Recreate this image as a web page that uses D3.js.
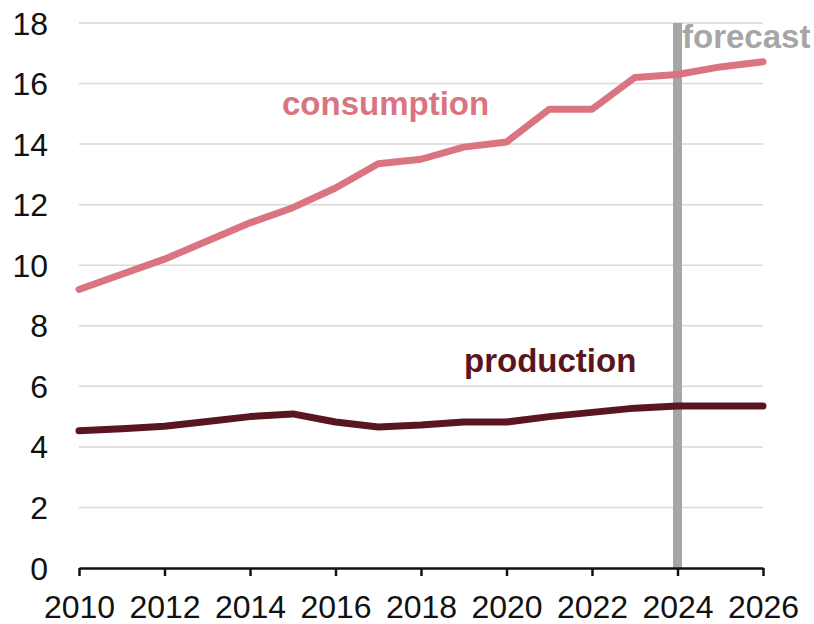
<!DOCTYPE html>
<html>
<head>
<meta charset="utf-8">
<script src="https://cdn.jsdelivr.net/npm/d3@7"></script>
<style>
  body { margin: 0; background: #fff; }
  text { font-family: "Liberation Sans", Arial, sans-serif; }
</style>
</head>
<body>
<svg id="chart" width="814" height="624"></svg>
<script>
const years = d3.range(2010, 2027);
const consumption = [9.2, 9.7, 10.2, 10.8, 11.4, 11.9, 12.55, 13.35, 13.5, 13.9, 14.07, 15.15, 15.15, 16.2, 16.3, 16.55, 16.72];
const production = [4.53, 4.6, 4.68, 4.84, 5.0, 5.09, 4.82, 4.66, 4.72, 4.82, 4.82, 5.0, 5.14, 5.28, 5.35, 5.35, 5.35];
const yTicks = [0, 2, 4, 6, 8, 10, 12, 14, 16, 18];
const xTicks = [2010, 2012, 2014, 2016, 2018, 2020, 2022, 2024, 2026];
const forecastYear = 2024;

const svg = d3.select("#chart");
const margin = { top: 23, right: 51, bottom: 56, left: 79 };
const width = 814, height = 624;

const x = d3.scaleLinear().domain([2010, 2026]).range([margin.left, width - margin.right]);
const y = d3.scaleLinear().domain([0, 18]).range([height - margin.bottom, margin.top]);

// gridlines
svg.append("g")
  .selectAll("line")
  .data(yTicks.filter(d => d > 0))
  .enter().append("line")
  .attr("x1", x(2010)).attr("x2", x(2026))
  .attr("y1", d => y(d)).attr("y2", d => y(d))
  .attr("stroke", "#d9d9d9")
  .attr("stroke-width", 1.5);

// y labels
svg.append("g")
  .selectAll("text")
  .data(yTicks)
  .enter().append("text")
  .attr("x", 48)
  .attr("y", d => y(d) + 11.5)
  .attr("text-anchor", "end")
  .attr("font-size", "32px")
  .attr("fill", "#111")
  .text(d => d);

// forecast bar
svg.append("line")
  .attr("x1", x(forecastYear)).attr("x2", x(forecastYear))
  .attr("y1", y(18)).attr("y2", y(0))
  .attr("stroke", "#a6a6a6")
  .attr("stroke-width", 9);

// x axis
const xAxis = d3.axisBottom(x)
  .tickValues(xTicks)
  .tickFormat(d3.format("d"))
  .tickSize(8)
  .tickSizeOuter(0);
const gx = svg.append("g")
  .attr("transform", "translate(0," + y(0) + ")")
  .call(xAxis);
gx.select(".domain").attr("stroke", "#111").attr("stroke-width", 2.5);
gx.selectAll(".tick line").attr("stroke", "#111").attr("stroke-width", 2.5);
gx.selectAll(".tick text")
  .attr("font-size", "32px")
  .attr("font-family", "Liberation Sans, Arial, sans-serif")
  .attr("fill", "#111")
  .attr("y", 50)
  .attr("dy", 0);

const line = d3.line().x((d, i) => x(years[i])).y(d => y(d));

svg.append("path")
  .datum(consumption)
  .attr("d", line)
  .attr("fill", "none")
  .attr("stroke", "#da7481")
  .attr("stroke-width", 7)
  .attr("stroke-linecap", "round")
  .attr("stroke-linejoin", "round");

svg.append("path")
  .datum(production)
  .attr("d", line)
  .attr("fill", "none")
  .attr("stroke", "#5a1620")
  .attr("stroke-width", 7)
  .attr("stroke-linecap", "round")
  .attr("stroke-linejoin", "round");

// labels
svg.append("text")
  .attr("x", 282).attr("y", 115)
  .attr("font-size", "33px").attr("font-weight", "bold")
  .attr("fill", "#da7481")
  .text("consumption");

svg.append("text")
  .attr("x", 464).attr("y", 372)
  .attr("font-size", "33px").attr("font-weight", "bold")
  .attr("fill", "#5a1620")
  .text("production");

svg.append("text")
  .attr("x", 682).attr("y", 48)
  .attr("font-size", "33px").attr("font-weight", "bold")
  .attr("fill", "#a6a6a6")
  .text("forecast");
</script>
</body>
</html>
